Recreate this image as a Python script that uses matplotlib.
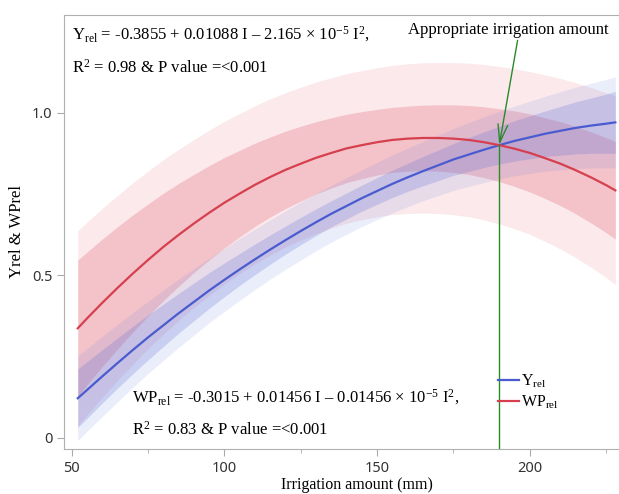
import matplotlib
matplotlib.use("Agg")
import matplotlib.pyplot as plt
import numpy as np

# ---- data ----
irrigation = [52, 55, 60, 65, 70, 75, 80, 85, 90, 95, 100, 105, 110, 115, 120, 125, 130, 135, 140,
              145, 150, 155, 160, 165, 170, 175, 180, 185, 190, 195, 200, 205, 210, 215, 220, 225, 228]
y_rel = [0.122, 0.147, 0.189, 0.230, 0.270, 0.309, 0.346, 0.383, 0.418, 0.453, 0.486, 0.518, 0.549,
         0.579, 0.608, 0.636, 0.663, 0.689, 0.713, 0.737, 0.759, 0.781, 0.801, 0.820, 0.838, 0.856,
         0.871, 0.886, 0.900, 0.913, 0.924, 0.935, 0.944, 0.953, 0.960, 0.966, 0.970]
wp_rel = [0.337, 0.367, 0.415, 0.461, 0.505, 0.547, 0.587, 0.624, 0.659, 0.692, 0.723, 0.751, 0.778,
          0.802, 0.824, 0.843, 0.861, 0.876, 0.890, 0.900, 0.909, 0.916, 0.920, 0.922, 0.922, 0.920,
          0.916, 0.909, 0.900, 0.889, 0.876, 0.860, 0.843, 0.823, 0.801, 0.777, 0.761]
# half widths of confidence (inner) and prediction (outer) bands
y_ci_hw = [0.090, 0.087, 0.082, 0.077, 0.073, 0.069, 0.065, 0.061, 0.058, 0.055, 0.052, 0.049, 0.047,
           0.045, 0.043, 0.042, 0.041, 0.040, 0.040, 0.040, 0.041, 0.042, 0.043, 0.045, 0.047, 0.049,
           0.052, 0.055, 0.058, 0.062, 0.066, 0.070, 0.075, 0.080, 0.085, 0.091, 0.095]
y_pi_hw = [0.130, 0.127, 0.123, 0.119, 0.115, 0.111, 0.108, 0.105, 0.102, 0.099, 0.097, 0.095, 0.093,
           0.091, 0.090, 0.089, 0.088, 0.087, 0.087, 0.087, 0.088, 0.089, 0.090, 0.091, 0.093, 0.095,
           0.098, 0.101, 0.104, 0.107, 0.111, 0.115, 0.120, 0.125, 0.130, 0.136, 0.140]
wp_ci_hw = [0.210, 0.204, 0.196, 0.188, 0.180, 0.172, 0.165, 0.158, 0.151, 0.145, 0.139, 0.133, 0.128,
            0.123, 0.119, 0.115, 0.111, 0.108, 0.105, 0.103, 0.101, 0.100, 0.100, 0.101, 0.102, 0.104,
            0.106, 0.109, 0.112, 0.116, 0.120, 0.124, 0.129, 0.134, 0.140, 0.146, 0.150]
wp_pi_hw = [0.300, 0.296, 0.290, 0.284, 0.279, 0.273, 0.268, 0.263, 0.258, 0.254, 0.250, 0.246, 0.243,
            0.240, 0.237, 0.235, 0.233, 0.231, 0.230, 0.229, 0.229, 0.229, 0.230, 0.231, 0.232, 0.234,
            0.236, 0.239, 0.242, 0.246, 0.250, 0.256, 0.262, 0.269, 0.276, 0.284, 0.290]

optimum_irrigation = 190
optimum_value = 0.900

x_ticks = [50, 100, 150, 200]
x_minor = [75, 125, 175, 225]
y_ticks = [0, 0.5, 1.0]
y_tick_labels = ["0", "0.5", "1.0"]

# ---- figure ----
plt.rcParams['font.family'] = ['Liberation Serif', 'DejaVu Serif']
plt.rcParams['mathtext.fontset'] = 'custom'
plt.rcParams['mathtext.rm'] = 'Liberation Serif'
plt.rcParams['mathtext.it'] = 'Liberation Serif:italic'

fig = plt.figure(figsize=(6.19, 4.94), dpi=100)
ax = fig.add_axes([64/619, 1-449/494, 1-64/619, (449-15)/494])

I = np.array(irrigation)
yr = np.array(y_rel); wp = np.array(wp_rel)

red = '#d6404e'
blue = '#4a5bd0'
green = '#2a8a2a'

ax.fill_between(I, wp - np.array(wp_pi_hw), wp + np.array(wp_pi_hw), color='#e8707f', alpha=0.15, lw=0)
ax.fill_between(I, wp - np.array(wp_ci_hw), wp + np.array(wp_ci_hw), color='#e0606f', alpha=0.27, lw=0)
ax.fill_between(I, yr - np.array(y_pi_hw), yr + np.array(y_pi_hw), color='#7080e0', alpha=0.14, lw=0)
ax.fill_between(I, yr - np.array(y_ci_hw), yr + np.array(y_ci_hw), color='#6070d8', alpha=0.24, lw=0)

ax.plot(I, yr, color=blue, lw=1.6, label=r'Y$_{\rm rel}$')
ax.plot(I, wp, color=red, lw=1.6, label=r'WP$_{\rm rel}$')

ax.set_xlim(47.5, 229.2)
ax.set_ylim(-0.034, 1.30)

# vertical green line and arrow
ax.plot([optimum_irrigation, optimum_irrigation], [-0.034, optimum_value], color=green, lw=1.0, zorder=5)
ax.text(193, 1.255, 'Appropriate irrigation amount', ha='center', va='center', fontsize=12)
ax.annotate('', xy=(optimum_irrigation, optimum_value), xytext=(196, 1.222),
            arrowprops=dict(arrowstyle='->,head_length=1.3,head_width=0.35', color=green, lw=1.0,
                            shrinkA=0, shrinkB=0), zorder=6)

ax.text(50.1, 1.24, r'Y$_{\rm rel}$ = -0.3855 + 0.01088 I – 2.165 × 10$^{-5}$ I$^{2}$,', fontsize=12, va='center')
ax.text(50.1, 1.138, r'R$^{2}$ = 0.98 & P value =<0.001', fontsize=12, va='center')
ax.text(69.8, 0.125, r'WP$_{\rm rel}$ = -0.3015 + 0.01456 I – 0.01456 × 10$^{-5}$ I$^{2}$,', fontsize=12, va='center')
ax.text(69.8, 0.025, r'R$^{2}$ = 0.83 & P value =<0.001', fontsize=12, va='center')

leg = ax.legend(loc='upper left', bbox_to_anchor=(0.782, 0.175), frameon=False, borderpad=0,
                borderaxespad=0, handlelength=1.3, handletextpad=0.15, labelspacing=0.2, fontsize=11.5)

ax.set_xticks(x_ticks)
ax.set_xticks(x_minor, minor=True)
ax.set_yticks(y_ticks)
ax.set_yticklabels(y_tick_labels)
ax.tick_params(axis='both', which='major', direction='out', length=5, color='#aaaaaa', labelsize=10.5, labelcolor='#333333')
ax.tick_params(axis='x', which='minor', direction='out', length=3, color='#aaaaaa')
for lab in ax.get_xticklabels() + ax.get_yticklabels():
    lab.set_fontfamily(['Noto Sans', 'DejaVu Sans'])
for s in ['left', 'bottom', 'top']:
    ax.spines[s].set_color('#b0b0b0')
ax.spines['right'].set_visible(False)

ax.set_xlabel('Irrigation amount (mm)', fontsize=11.5)
ax.set_ylabel('Yrel & WPrel', fontsize=12)
ax.xaxis.set_label_coords((357-64)/(619-64), -(477-449)/434)
ax.yaxis.set_label_coords(-(64-25)/(619-64), 0.5)

fig.savefig('out.png', dpi=100)
